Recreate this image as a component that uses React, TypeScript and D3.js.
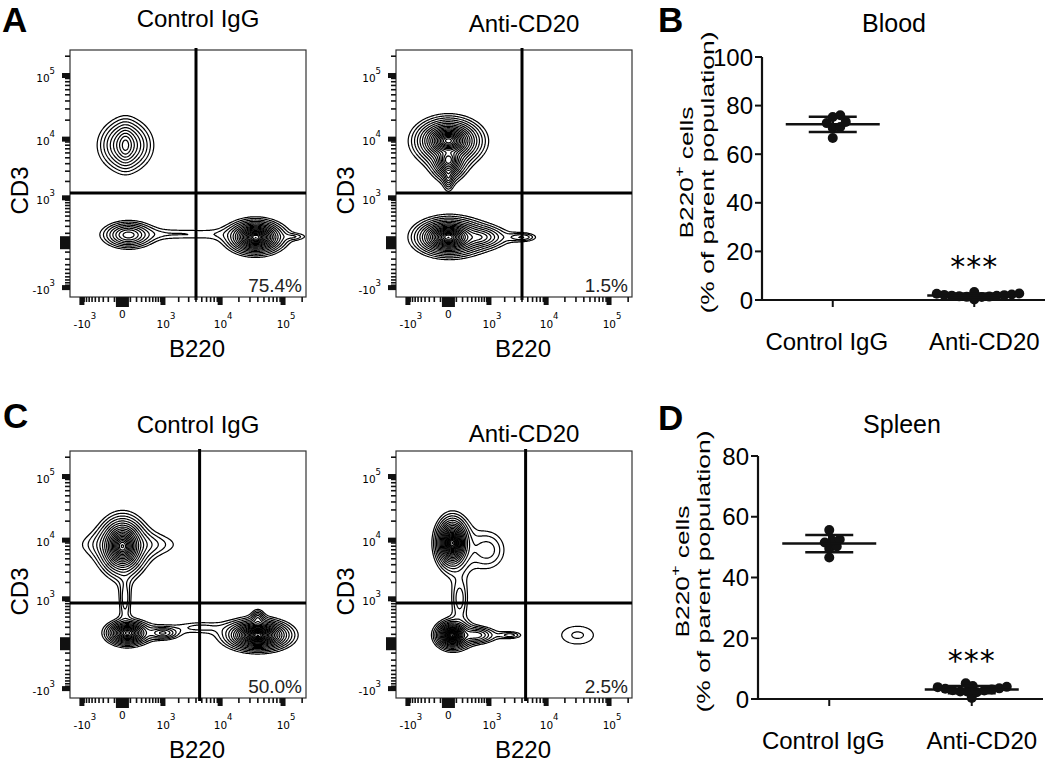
import React, { useEffect, useRef } from 'react'
import * as d3 from 'd3'

// flow populations: [B220, CD3, spread B220, spread CD3, peak density]
// spreads are in biexponential display units
const bloodControlPops = [
  [35, 8000, 0.75, 0.7, 8],
  [35, 8000, 0.25, 0.5, 8],
  [73, 80, 0.62, 0.33, 11],
  [37000, 55, 0.27, 0.16, 460],
  [2600, 90, 2.6, 0.3, 1.25],
  [300000, 500, 0.2, 0.5, 6],
  [150000, 60, 0.5, 0.15, 1.3],
]
const bloodAntiPops = [
  [0, 9400, 0.33, 0.22, 400],
  [0, 4600, 0.26, 0.3, 60],
  [0, 2500, 0.15, 0.4, 5],
  [0, 55, 0.32, 0.175, 460],
  [600, 55, 0.7, 0.3, 8],
  [4000, 55, 0.6, 0.18, 2.4],
]
const spleenControlPops = [
  [0, 8000, 0.24, 0.3, 350],
  [100, 8500, 1.9, 0.5, 2.5],
  [30, 1000, 0.25, 0.9, 2.2],
  [60, 117, 0.3, 0.17, 104],
  [1000, 117, 0.5, 0.2, 5],
  [40000, 90, 0.27, 0.125, 900],
  [40000, 350, 0.2, 0.3, 4],
  [4500, 200, 1.2, 0.3, 1.3],
]
const spleenAntiPops = [
  [45, 9000, 0.135, 0.21, 900],
  [930, 6950, 0.84, 0.88, 2.2],
  [150, 1000, 0.35, 0.9, 2.2],
  [45, 90, 0.135, 0.11, 900],
  [500, 90, 0.6, 0.25, 6],
  [2500, 90, 0.5, 0.15, 2],
  [32000, 90, 1.24, 0.69, 1.45],
]

const bloodGate = [4000, 1240]
const spleenGate = [4600, 830]
const bloodPct = ['75.4%', '1.5%']
const spleenPct = ['50.0%', '2.5%']
const groupNames = ['Control IgG', 'Anti-CD20']

// dot plots (B, D), % B220+ of parent
const bloodControl = [76, 75.3, 73.3, 72.8, 71.2, 70.8, 66.7]
const bloodAnti = [2.7, 2.3, 2.0, 1.8, 1.5, 1.3, 0.2, 1.2, 1.4, 1.7, 2.1, 2.6, 3.3]
const spleenControl = [55.6, 52.5, 52.2, 51.5, 50.2, 49.5, 46.6]
const spleenAnti = [4.3, 3.9, 3.5, 3.1, 2.8, 2.5, 2.2, 0.3, 2.4, 2.9, 3.4, 4.0, 5.2]

const b220Domain = [-1700, 230000]
const cd3Domain = [-1500, 250000]
const flowLabels = [[-1000, '-10', '3'], [0, '0', ''], [1000, '10', '3'], [10000, '10', '4'], [100000, '10', '5']]
const majorTicks = [-1000, 1000, 10000, 100000]
const minorTicks = [-900, -800, -700, -600, -500, -400, -300, -200, -100, 100, 200, 300, 400, 500, 600, 700, 800, 900,
  2000, 3000, 4000, 5000, 6000, 7000, 8000, 9000, 20000, 30000, 40000, 50000, 60000, 70000, 80000, 90000, 200000]

const FW = 236, FH = 247
const SANS = "'Liberation Sans', Arial, sans-serif"
const NARROW = "'Liberation Sans Narrow', 'Arial Narrow', 'Liberation Sans', sans-serif"
const TICKF = "'DejaVu Sans', Verdana, sans-serif"

const tf = (v, c) => Math.sign(v) * Math.log1p(Math.abs(v) / c)

function flowPlot(svg, o) {
  const x = d3.scaleSymlog().constant(300).domain(b220Domain).range([o.x0, o.x0 + FW])
  const y = d3.scaleSymlog().constant(250).domain(cd3Domain).range([o.y0 + FH, o.y0])
  const kx = FW / (tf(b220Domain[1], 300) - tf(b220Domain[0], 300))
  const ky = FH / (tf(cd3Domain[1], 250) - tf(cd3Domain[0], 250))

  const grid = new Float64Array(FW * FH)
  o.pops.forEach(([b, c, sb, sc, pk]) => {
    const cx = x(b) - o.x0, cy = y(c) - o.y0, rx = sb * kx, ry = sc * ky
    for (let j = 0; j < FH; j++) {
      for (let i = 0; i < FW; i++) {
        const dx = (i + 0.5 - cx) / rx, dy = (j + 0.5 - cy) / ry
        const q = 1 + dx * dx + dy * dy
        grid[j * FW + i] += pk / (q * q)
      }
    }
  })
  const levels = d3.range(0, 26).map(k => Math.pow(1.38, k))
  const contours = d3.contours().size([FW, FH]).thresholds(levels)(Array.from(grid))

  const g = svg.append('g')
  const clipId = `clip-${o.x0}-${o.y0}`
  g.append('clipPath').attr('id', clipId).append('rect')
    .attr('x', 0).attr('y', 0).attr('width', FW).attr('height', FH)
  g.append('g')
    .attr('transform', `translate(${o.x0},${o.y0})`)
    .attr('clip-path', `url(#${clipId})`)
    .selectAll('path').data(contours).join('path')
    .attr('d', d3.geoPath())
    .attr('fill', 'none').attr('stroke', '#000').attr('stroke-width', 1.2)

  g.append('rect').attr('x', o.x0).attr('y', o.y0).attr('width', FW).attr('height', FH)
    .attr('fill', 'none').attr('stroke', '#333').attr('stroke-width', 1.2)

  // quadrant gate
  g.append('line').attr('x1', x(o.gate[0])).attr('x2', x(o.gate[0]))
    .attr('y1', o.y0 - 2).attr('y2', o.y0 + FH + 3).attr('stroke', '#000').attr('stroke-width', 3)
  g.append('line').attr('x1', o.x0).attr('x2', o.x0 + FW)
    .attr('y1', y(o.gate[1])).attr('y2', y(o.gate[1])).attr('stroke', '#000').attr('stroke-width', 3)

  // axis ticks
  const bot = o.y0 + FH
  minorTicks.forEach(v => {
    g.append('line').attr('x1', o.x0 - 5).attr('x2', o.x0).attr('y1', y(v)).attr('y2', y(v))
      .attr('stroke', '#111').attr('stroke-width', 1.6)
    g.append('line').attr('x1', x(v)).attr('x2', x(v)).attr('y1', bot).attr('y2', bot + 5)
      .attr('stroke', '#111').attr('stroke-width', 1.6)
  })
  majorTicks.forEach(v => {
    g.append('rect').attr('x', o.x0 - 8).attr('y', y(v) - 2.5).attr('width', 8).attr('height', 5).attr('fill', '#111')
    g.append('rect').attr('x', x(v) - 2.5).attr('y', bot).attr('width', 5).attr('height', 8).attr('fill', '#111')
  })
  g.append('rect').attr('x', o.x0 - 10).attr('y', y(0) - 6.5).attr('width', 10).attr('height', 13).attr('fill', '#111')
  g.append('rect').attr('x', x(0) - 6.5).attr('y', bot).attr('width', 13).attr('height', 10).attr('fill', '#111')

  // tick labels
  flowLabels.forEach(([v, base, sup]) => {
    if (v === 0) {
      g.append('text').attr('x', x(v)).attr('y', bot + 21).attr('text-anchor', 'middle')
        .attr('font-family', TICKF).attr('font-size', 10.5).text('0')
      return
    }
    const tx = g.append('text').attr('x', x(v) + 3).attr('y', bot + 31).attr('text-anchor', 'middle')
      .attr('font-family', TICKF).attr('font-size', 10.5)
    tx.append('tspan').text(base)
    tx.append('tspan').attr('dy', -9).attr('font-size', 8.5).text(sup)
    const ty = g.append('text').attr('x', o.x0 - 15).attr('y', y(v) + 6).attr('text-anchor', 'end')
      .attr('font-family', TICKF).attr('font-size', 10.5)
    ty.append('tspan').text(base)
    ty.append('tspan').attr('dy', -8).attr('font-size', 8.5).text(sup)
  })

  // labels
  g.append('text').attr('x', o.x0 + FW / 2 + 10).attr('y', o.titleY).attr('text-anchor', 'middle')
    .attr('font-family', SANS).attr('font-size', 24).text(o.title)
  g.append('text').attr('x', o.x0 + FW / 2 + 9).attr('y', bot + 60).attr('text-anchor', 'middle')
    .attr('font-family', SANS).attr('font-size', 24).text('B220')
  g.append('text').attr('transform', `translate(${o.x0 - 42},${o.y0 + FH / 2 + 17}) rotate(-90)`)
    .attr('text-anchor', 'middle').attr('font-family', SANS).attr('font-size', 24).text('CD3')
  g.append('text').attr('x', o.x0 + FW - 4).attr('y', bot - 5).attr('text-anchor', 'end')
    .attr('font-family', SANS).attr('font-size', 19).attr('fill', '#222').text(o.pct)
}

function swarm(vals, cx, y, minDist) {
  const pts = vals.map(v => ({ v, py: y(v), px: cx })).sort((a, b) => a.v - b.v)
  const placed = []
  pts.forEach(p => {
    for (let k = 0; k < 400; k++) {
      const off = (k % 2 ? 1 : -1) * Math.ceil(k / 2) * 0.5
      const ok = placed.every(q => Math.hypot(q.px - (cx + off), q.py - p.py) >= minDist)
      if (ok) { p.px = cx + off; break }
    }
    placed.push(p)
  })
  return placed
}

function dotPlot(svg, o) {
  const y = d3.scaleLinear().domain([0, o.yMax]).range([o.yBase, o.yBase - 243])
  const x = d3.scalePoint().domain(groupNames).range([o.x0, o.x1]).padding(0.5)
  const g = svg.append('g')

  g.append('line').attr('x1', o.x0).attr('x2', o.x0).attr('y1', y(o.yMax)).attr('y2', y(0) + 1)
    .attr('stroke', '#111').attr('stroke-width', 2.2)
  g.append('line').attr('x1', o.x0).attr('x2', o.x1).attr('y1', y(0)).attr('y2', y(0))
    .attr('stroke', '#111').attr('stroke-width', 2.2)
  d3.range(0, o.yMax + 1, 20).forEach(v => {
    g.append('line').attr('x1', o.x0 - 7).attr('x2', o.x0).attr('y1', y(v)).attr('y2', y(v))
      .attr('stroke', '#111').attr('stroke-width', 2)
    g.append('text').attr('x', o.x0 - 9).attr('y', y(v) + 8.5).attr('text-anchor', 'end')
      .attr('font-family', NARROW).attr('font-size', 24).text(v)
  })
  groupNames.forEach((n, i) => {
    g.append('line').attr('x1', x(n)).attr('x2', x(n)).attr('y1', y(0)).attr('y2', y(0) + 7)
      .attr('stroke', '#111').attr('stroke-width', 2)
    g.append('text').attr('x', x(n) + (i ? 10 : -6)).attr('y', y(0) + 50).attr('text-anchor', 'middle')
      .attr('font-family', SANS).attr('font-size', 24).text(n)
  })

  ;[o.control, o.anti].forEach((vals, i) => {
    const cx = x(groupNames[i])
    swarm(vals, cx, y, 7.5).forEach(p => {
      g.append('circle').attr('cx', p.px).attr('cy', p.py).attr('r', 5).attr('fill', '#111')
    })
    const m = d3.mean(vals), sd = d3.deviation(vals)
    g.append('line').attr('x1', cx - 47).attr('x2', cx + 47).attr('y1', y(m)).attr('y2', y(m))
      .attr('stroke', '#111').attr('stroke-width', 2.5)
    g.append('line').attr('x1', cx).attr('x2', cx).attr('y1', y(m - sd)).attr('y2', y(m + sd))
      .attr('stroke', '#111').attr('stroke-width', 2.5)
    ;[m - sd, m + sd].forEach(v => {
      g.append('line').attr('x1', cx - 24).attr('x2', cx + 24).attr('y1', y(v)).attr('y2', y(v))
        .attr('stroke', '#111').attr('stroke-width', 2.5)
    })
  })

  g.append('text').attr('x', x(groupNames[1])).attr('y', y(o.starAt) + 16).attr('text-anchor', 'middle')
    .attr('font-family', TICKF).attr('font-size', 30).attr('letter-spacing', 1).text('***')

  g.append('text').attr('x', o.titleX).attr('y', o.titleY).attr('text-anchor', 'middle')
    .attr('font-family', SANS).attr('font-size', 25).text(o.title)

  const cy = (y(0) + y(o.yMax)) / 2 - 6
  const t1 = g.append('text').attr('transform', `translate(${o.x0 - 69},${cy}) rotate(-90)`)
    .attr('text-anchor', 'middle').attr('font-family', SANS).attr('font-size', 19)
    .attr('textLength', 132).attr('lengthAdjust', 'spacingAndGlyphs')
  t1.append('tspan').text('B220')
  t1.append('tspan').attr('dy', -9).attr('font-size', 13).text('+')
  t1.append('tspan').attr('dy', 9).text(' cells')
  g.append('text').attr('transform', `translate(${o.x0 - 48},${cy}) rotate(-90)`)
    .attr('text-anchor', 'middle').attr('font-family', SANS).attr('font-size', 19)
    .attr('textLength', 282).attr('lengthAdjust', 'spacingAndGlyphs')
    .text('(% of parent population)')
}

export default function App() {
  const ref = useRef(null)
  useEffect(() => {
    const svg = d3.select(ref.current)
    svg.selectAll('*').remove()

    flowPlot(svg, { x0: 70, y0: 50, pops: bloodControlPops, gate: bloodGate, pct: bloodPct[0], title: groupNames[0], titleY: 27 })
    flowPlot(svg, { x0: 396, y0: 50, pops: bloodAntiPops, gate: bloodGate, pct: bloodPct[1], title: groupNames[1], titleY: 32 })
    flowPlot(svg, { x0: 70, y0: 451, pops: spleenControlPops, gate: spleenGate, pct: spleenPct[0], title: groupNames[0], titleY: 433 })
    flowPlot(svg, { x0: 396, y0: 451, pops: spleenAntiPops, gate: spleenGate, pct: spleenPct[1], title: groupNames[1], titleY: 442 })

    dotPlot(svg, { x0: 762, x1: 1045, yBase: 300, yMax: 100, control: bloodControl, anti: bloodAnti, starAt: 16, title: 'Blood', titleX: 894, titleY: 32 })
    dotPlot(svg, { x0: 758, x1: 1043, yBase: 699, yMax: 80, control: spleenControl, anti: spleenAnti, starAt: 14.5, title: 'Spleen', titleX: 902, titleY: 433 })

    const letters = [['A', 2, 32], ['B', 658, 32], ['C', 3, 428], ['D', 658, 430]]
    letters.forEach(([t, lx, ly]) => {
      svg.append('text').attr('x', lx).attr('y', ly).attr('font-family', SANS).attr('font-weight', 'bold')
        .attr('font-size', 35).text(t)
    })
  }, [])
  return (
    <svg ref={ref} width={1050} height={762}
      style={{ position: 'absolute', left: 0, top: 0, background: '#fff' }} />
  )
}
